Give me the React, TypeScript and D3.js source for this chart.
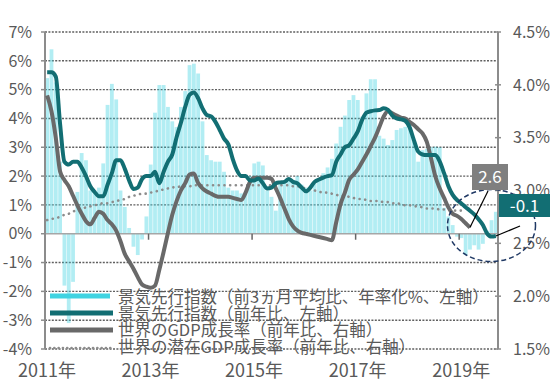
import React from "react";
import * as d3 from "d3";

// ---- data (monthly, Jan 2011 – Sep 2019) ----
const startYear = 2011;
const monthCount = 105;
const months: string[] = Array.from({ length: monthCount }, (_, i) =>
  `${startYear + Math.floor(i / 12)}-${String((i % 12) + 1).padStart(2, "0")}`
);

// 景気先行指数(前3ヵ月平均比、年率化%、左軸)
const leadAnnualized = [
  5.4, 6.4, 5.25, 2.5, -1.8, -3.1, -1.67, 1.45, 2.8, 2.55, 1.5, 1.5,
  1.6, 2.44, 4.47, 5.2, 4.66, 1.5, 0.93, 0.2, -0.45, -0.74, -0.2, 0.6,
  2.4, 4.2, 5.16, 5.16, 4.4, 3.9, 3.7, 4.4, 4.95, 5.85, 5.9, 5.56,
  3.9, 2.73, 2.55, 2.5, 2.5, 2.15, 1.6, 1.5, 1.5, 1.4, 1.45, 2.0,
  2.44, 2.5, 2.37, 1.5, 1.28, 0.8, 1.69, 1.75, 1.93, 1.85, 2.0, 1.7,
  1.6, 1.5, 1.75, 1.93, 2.1, 2.3, 2.6, 3.13, 3.71, 4.1, 4.64, 4.81,
  4.64, 4.06, 4.87, 5.36, 5.36, 3.4, 3.3, 3.08, 3.25, 3.6, 3.66, 3.71,
  3.71, 3.2, 2.5, 2.9, 2.95, 3.0, 3.02, 3.0, 0.9, 0.6, 0.3, -0.1,
  -0.15, -0.74, -0.55, -0.4, -0.55, -0.35, 0.1, 0.47, 0.76,
];

// 景気先行指数(前年比、左軸)
const leadYoY = [
  5.6, 5.6, 5.45, 3.8, 2.5, 2.4, 2.5, 2.5, 2.3, 2.0, 1.65, 1.45,
  1.3, 1.3, 1.7, 2.1, 2.55, 2.55, 2.25, 1.85, 1.55, 1.6, 1.9, 2.0,
  2.0, 2.15, 1.75, 2.15, 2.5, 2.75, 3.35, 3.85, 4.4, 4.82, 4.9, 4.7,
  4.35, 4.12, 4.07, 3.88, 3.6, 3.3, 3.1, 2.6, 2.2, 2.0, 2.0, 1.85,
  1.85, 1.92, 1.75, 1.57, 1.6, 1.75, 1.78, 1.8, 1.9, 1.8, 1.75, 1.6,
  1.47, 1.6, 1.8, 1.88, 1.95, 2.0, 2.03, 2.5, 2.75, 3.0, 3.07, 3.3,
  3.55, 3.95, 4.2, 4.25, 4.28, 4.29, 4.35, 4.3, 4.1, 4.0, 3.97, 3.92,
  3.7, 3.25, 2.85, 2.75, 2.73, 2.73, 2.73, 2.5, 2.1, 1.65, 1.35, 1.17,
  1.05, 0.92, 0.8, 0.67, 0.5, 0.3, 0.0, -0.1, -0.08,
];

// 世界のGDP成長率(前年比、右軸)
const gdpGrowth = [
  3.9, 3.75, 3.5, 3.18, 3.1, 3.04, 2.95, 2.86, 2.78, 2.71, 2.68, 2.74,
  2.8, 2.78, 2.72, 2.68, 2.62, 2.52, 2.4, 2.33, 2.26, 2.18, 2.11, 2.09,
  2.08, 2.1, 2.25, 2.42, 2.6, 2.77, 2.9, 3.0, 3.07, 3.15, 3.16, 3.07,
  3.02, 2.99, 2.97, 2.95, 2.94, 2.94, 2.94, 2.93, 2.92, 2.91, 2.98, 3.08,
  3.12, 3.12, 3.12, 3.12, 3.11, 3.02, 2.93, 2.83, 2.73, 2.66, 2.62, 2.6,
  2.59, 2.58, 2.57, 2.56, 2.55, 2.54, 2.53, 2.7, 2.87, 2.98, 3.1, 3.15,
  3.2, 3.27, 3.34, 3.42, 3.5, 3.6, 3.7, 3.75, 3.73, 3.71, 3.69, 3.68,
  3.65, 3.62, 3.58, 3.54, 3.46, 3.3, 3.13, 3.02, 2.93, 2.84, 2.78, 2.76,
  2.73, 2.69, 2.65,
];

// 世界の潜在GDP成長率(前年比、右軸)
const potentialGdp = [
  2.72, 2.73, 2.74, 2.75, 2.77, 2.78, 2.8, 2.82, 2.83, 2.84, 2.85, 2.86,
  2.87, 2.88, 2.88, 2.89, 2.9, 2.91, 2.92, 2.94, 2.95, 2.96, 2.97, 2.97,
  2.98, 2.99, 3.0, 3.01, 3.02, 3.03, 3.03, 3.04, 3.04, 3.04, 3.05, 3.05,
  3.05, 3.05, 3.05, 3.05, 3.05, 3.05, 3.05, 3.05, 3.05, 3.05, 3.05, 3.05,
  3.05, 3.05, 3.05, 3.05, 3.05, 3.05, 3.05, 3.05, 3.05, 3.04, 3.04, 3.03,
  3.02, 3.01, 3.0, 2.99, 2.98, 2.98, 2.97, 2.96, 2.95, 2.95, 2.94, 2.93,
  2.92, 2.92, 2.91, 2.9, 2.9, 2.9, 2.89, 2.89, 2.88, 2.88, 2.87, 2.86,
  2.86, 2.85, 2.85, 2.84, 2.83, 2.83, 2.83, 2.82, 2.82, 2.82, 2.81, 2.81,
  2.81,
];

const leftTicks = [7, 6, 5, 4, 3, 2, 1, 0, -1, -2, -3, -4];
const rightTicks = [4.5, 4.0, 3.5, 3.0, 2.5, 2.0, 1.5];
const yearLabels = ["2011年", "2013年", "2015年", "2017年", "2019年"];
const yearTickMonths = ["2013-01", "2015-01", "2017-01", "2019-01"];
const legendLabels = [
  "景気先行指数（前3ヵ月平均比、年率化%、左軸）",
  "景気先行指数（前年比、左軸）",
  "世界のGDP成長率（前年比、右軸）",
  "世界の潜在GDP成長率（前年比、右軸）",
];
const gdpLastLabel = "2.6";
const leadLastLabel = "-0.1";

// ---- layout ----
const W = 550;
const H = 383;
const X0 = 45;
const X1 = 498;
const YT = 32;
const YB = 349;

const C_BAR = "#3FD3E1";
const C_TEAL = "#126E73";
const C_GRAY = "#696969";
const C_DOT = "#8C8C8C";
const C_TEXT = "#595959";
const FONT = "'Noto Sans CJK JP', 'Noto Sans', sans-serif";

export default function App() {
  const x = d3.scaleBand<string>().domain(months).range([X0, X1]).paddingInner(0.12).paddingOuter(0.06);
  const step = x.step();
  const cx = (i: number) => (x(months[i]) as number) + x.bandwidth() / 2;
  const yL = d3.scaleLinear().domain([-4, 7]).range([YB, YT]);
  const yR = d3.scaleLinear().domain([1.5, 4.5]).range([YB, YT]);

  const lineL = d3.line<number>().x((_, i) => cx(i)).y((d) => yL(d)).curve(d3.curveMonotoneX);
  const lineR = d3.line<number>().x((_, i) => cx(i)).y((d) => yR(d)).curve(d3.curveMonotoneX);

  const bandStart = (m: string) => X0 + months.indexOf(m) * step;

  const gEndX = cx(gdpGrowth.length - 1);
  const gEndY = yR(gdpGrowth[gdpGrowth.length - 1]);
  const tEndX = cx(leadYoY.length - 1);
  const tEndY = yL(leadYoY[leadYoY.length - 1]);

  const legendY = [296, 313, 330, 348];
  const legendBase = [303, 319.7, 336.3, 353];

  return (
    <svg width={W} height={H} style={{ position: "absolute", left: 0, top: 0, background: "#fff" }} fontFamily={FONT}>
      {/* gridlines */}
      {leftTicks.filter((t) => t !== 0).map((t) => (
        <line key={"g" + t} x1={X0} x2={X1} y1={yL(t)} y2={yL(t)} stroke="#606060" strokeWidth={1.4} strokeDasharray="2 1.4" />
      ))}
      {/* bars */}
      {leadAnnualized.map((v, i) => (
        <rect key={"b" + i} x={x(months[i])} width={x.bandwidth()} y={yL(Math.max(0, v))} height={Math.abs(yL(v) - yL(0))} fill={C_BAR} fillOpacity={0.4} />
      ))}
      {/* zero line */}
      <line x1={X0} x2={X1} y1={yL(0)} y2={yL(0)} stroke="#a6a6a6" strokeWidth={1.5} />
      {yearTickMonths.map((m) => (
        <line key={m} x1={bandStart(m)} x2={bandStart(m)} y1={yL(0)} y2={yL(0) + 6} stroke="#666" strokeWidth={1.5} />
      ))}
      {/* axes */}
      <line x1={X0} x2={X0} y1={YT} y2={YB} stroke="#8c8c8c" strokeWidth={2} />
      <line x1={X1} x2={X1} y1={YT} y2={YB} stroke="#8c8c8c" strokeWidth={2} />
      {leftTicks.map((t) => (
        <line key={"lt" + t} x1={X0 - 4} x2={X0} y1={yL(t)} y2={yL(t)} stroke="#8c8c8c" strokeWidth={1.5} />
      ))}
      {rightTicks.map((t) => (
        <line key={"rt" + t} x1={X1 - 3} x2={X1 + 3} y1={yR(t)} y2={yR(t)} stroke="#8c8c8c" strokeWidth={1.5} />
      ))}
      {leftTicks.map((t) => (
        <text key={"ll" + t} x={32} y={yL(t)} dy="0.36em" textAnchor="end" fontSize={16} fill={C_TEXT}>{`${t}%`}</text>
      ))}
      {rightTicks.map((t) => (
        <text key={"rl" + t} x={513} y={yR(t)} dy="0.36em" textAnchor="start" fontSize={16} fill={C_TEXT}>{`${t.toFixed(1)}%`}</text>
      ))}
      {yearLabels.map((lab, k) => (
        <text key={lab} x={X0 + k * 24 * step + 2} y={377} textAnchor="middle" fontSize={18} fill={C_TEXT}>{lab}</text>
      ))}
      {/* lines */}
      <path d={lineR(potentialGdp) || ""} fill="none" stroke={C_DOT} strokeWidth={2.6} strokeLinecap="round" strokeDasharray="0.1 5.6" />
      <path d={lineR(gdpGrowth) || ""} fill="none" stroke={C_GRAY} strokeWidth={4} strokeLinejoin="round" />
      <path d={lineL(leadYoY) || ""} fill="none" stroke={C_TEAL} strokeWidth={4} strokeLinejoin="round" />
      {/* legend */}
      <line x1={50} x2={110} y1={legendY[0]} y2={legendY[0]} stroke={C_BAR} strokeWidth={5} />
      <line x1={50} x2={113} y1={legendY[1]} y2={legendY[1]} stroke={C_TEAL} strokeWidth={5} />
      <line x1={50} x2={113} y1={legendY[2]} y2={legendY[2]} stroke={C_GRAY} strokeWidth={5} />
      <line x1={50} x2={113} y1={legendY[3]} y2={legendY[3]} stroke={C_DOT} strokeWidth={2.6} strokeLinecap="round" strokeDasharray="0.1 4.2" />
      {legendLabels.map((lab, k) => (
        <text key={lab} x={118} y={legendBase[k]} fontSize={16.5} fill={C_TEXT}>{lab}</text>
      ))}
      {/* annotations */}
      <ellipse cx={491.5} cy={225.5} rx={44} ry={36} fill="none" stroke="#1F3864" strokeWidth={1.5} strokeDasharray="5 3" />
      <line x1={488} x2={gEndX} y1={191} y2={gEndY} stroke="#000" strokeWidth={1.2} />
      <line x1={tEndX} x2={520} y1={tEndY} y2={226} stroke="#000" strokeWidth={1.2} />
      <rect x={472} y={164} width={36} height={26} fill="#7f7f7f" />
      <text x={490} y={177} dy="0.36em" textAnchor="middle" fontSize={17} fill="#fff">{gdpLastLabel}</text>
      <rect x={499} y={194} width={51} height={23} fill={C_TEAL} />
      <text x={524.5} y={205.5} dy="0.36em" textAnchor="middle" fontSize={17} fill="#fff">{leadLastLabel}</text>
    </svg>
  );
}
